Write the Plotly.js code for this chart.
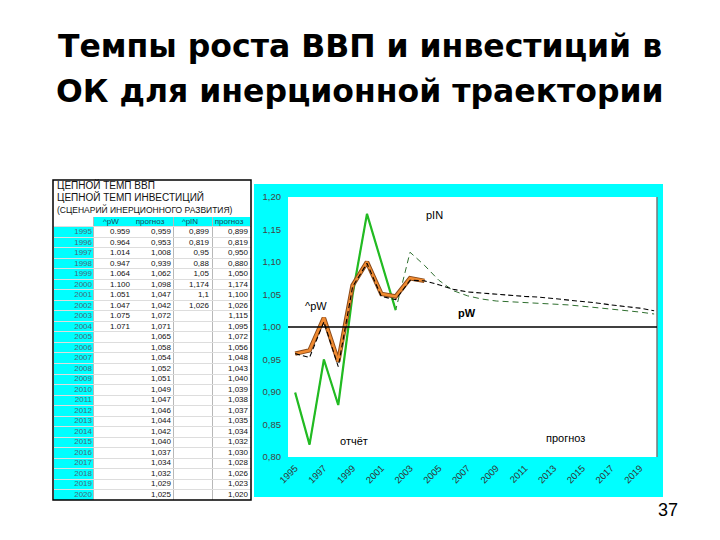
<!DOCTYPE html>
<html>
<head>
<meta charset="utf-8">
<script src="https://cdn.plot.ly/plotly-3.0.1.min.js"></script>
<style>html,body{margin:0;padding:0;background:#fff;}#chart{width:720px;height:540px;}</style>
</head>
<body>
<div id="chart"></div>
<script>
// ---- data ----
var years = [1995,1996,1997,1998,1999,2000,2001,2002,2003,2004,2005,2006,2007,2008,2009,2010,2011,2012,2013,2014,2015,2016,2017,2018,2019,2020];
var yearsActualW = [1995,1996,1997,1998,1999,2000,2001,2002,2003,2004];
var pW_actual = [0.959,0.964,1.014,0.947,1.064,1.100,1.051,1.047,1.075,1.071];
var pW_forecast = [0.959,0.953,1.008,0.939,1.062,1.098,1.047,1.042,1.072,1.071,1.065,1.058,1.054,1.052,1.051,1.049,1.047,1.046,1.044,1.042,1.040,1.037,1.034,1.032,1.029,1.025];
var yearsActualIN = [1995,1996,1997,1998,1999,2000,2001,2002];
var pIN_actual = [0.899,0.819,0.95,0.88,1.05,1.174,1.1,1.026];
var pIN_forecast = [0.899,0.819,0.950,0.880,1.050,1.174,1.100,1.026,1.115,1.095,1.072,1.056,1.048,1.043,1.040,1.039,1.038,1.037,1.035,1.034,1.032,1.030,1.028,1.026,1.023,1.020];
var xTickVals = [1995,1997,1999,2001,2003,2005,2007,2009,2011,2013,2015,2017,2019];
var xTickText = ['1995','1997','1999','2001','2003','2005','2007','2009','2011','2013','2015','2017','2019'];
var yTickVals = [0.80,0.85,0.90,0.95,1.00,1.05,1.10,1.15,1.20];
var yTickText = ['0,80','0,85','0,90','0,95','1,00','1,05','1,10','1,15','1,20'];
var tableHeader = ['^pW', 'прогноз', '^pIN', 'прогноз'];
var titleLines = ['Темпы роста ВВП и инвестиций в', 'ОК для инерционной траектории'];
var tableTitle = ['ЦЕПНОЙ ТЕМП ВВП', 'ЦЕПНОЙ ТЕМП ИНВЕСТИЦИЙ', '(СЦЕНАРИЙ ИНЕРЦИОННОГО РАЗВИТИЯ)'];

// ---- table columns (text) ----
var colYear = years.map(String);
var colW = pW_actual.map(function(v){ return v.toFixed(3); });
var colWf = pW_forecast.map(function(v){ return v.toFixed(3).replace('.', ','); });
var colIN = pIN_actual.map(function(v){ return String(v).replace('.', ','); });
var colINf = pIN_forecast.map(function(v){ return v.toFixed(3).replace('.', ','); });

var FONT = 'Liberation Sans, Arial, sans-serif';
var TFONT = 'DejaVu Sans, Liberation Sans, sans-serif';
var W = 720, H = 540;
function px(x){ return x / W; }
function py(y){ return 1 - y / H; }

// table layout (x2 axis in pixel units of the table area)
var colRight = [92, 130, 171, 209, 248];
var headCenter = [111, 150, 190, 229];
var headerRowYear = 1994; // header row sits one row above the first year
function constArr(n, v){ var a = []; for (var i = 0; i < n; i++) a.push(v); return a; }
function tcol(yrs, txt, xr, color){
  return {type:'scatter', mode:'text', xaxis:'x2', yaxis:'y2', x: constArr(yrs.length, xr), y: yrs,
    text: txt, textposition:'middle left', textfont:{family:FONT, size:8, color: color}, hoverinfo:'skip', cliponaxis:false};
}

var traces = [
  tcol(years, colYear, colRight[0], '#4a6a7a'),
  tcol(yearsActualW, colW, colRight[1], '#111'),
  tcol(years, colWf, colRight[2], '#111'),
  tcol(yearsActualIN, colIN, colRight[3], '#111'),
  tcol(years, colINf, colRight[4], '#111'),
  {type:'scatter', mode:'text', xaxis:'x2', yaxis:'y2', x: headCenter, y: constArr(4, headerRowYear),
   text: tableHeader, textposition:'middle center', textfont:{family:FONT, size:8, color:'#1a4a5a'}, hoverinfo:'skip', cliponaxis:false},

  {type:'scatter', mode:'lines', x: years, y: pIN_forecast, xaxis:'x', yaxis:'y',
   line:{color:'#2f6f2f', width:1, dash:'6px,4px'}, hoverinfo:'skip'},
  {type:'scatter', mode:'lines', x: yearsActualIN, y: pIN_actual,
   line:{color:'#22bb22', width:2.2}, hoverinfo:'skip'},
  {type:'scatter', mode:'lines', x: yearsActualW, y: pW_actual,
   line:{color:'#8a4a1a', width:4.5}, hoverinfo:'skip'},
  {type:'scatter', mode:'lines', x: yearsActualW, y: pW_actual,
   line:{color:'#f08a30', width:2.6}, hoverinfo:'skip'},
  {type:'scatter', mode:'lines', x: years, y: pW_forecast,
   line:{color:'#000000', width:1.1, dash:'5px,3px'}, hoverinfo:'skip'}
];

var ann = [
  {text: titleLines[0], x:0.5, y:py(46), xref:'paper', yref:'paper', showarrow:false,
   font:{family:TFONT, size:31.5, color:'#000', weight:'bold'}, xanchor:'center', yanchor:'middle'},
  {text: titleLines[1], x:0.5, y:py(91), xref:'paper', yref:'paper', showarrow:false,
   font:{family:TFONT, size:31.5, color:'#000', weight:'bold'}, xanchor:'center', yanchor:'middle'},
  {text:'37', x:px(668), y:py(510), xref:'paper', yref:'paper', showarrow:false,
   font:{family:FONT, size:18, color:'#000'}, xanchor:'center', yanchor:'middle'},
  {text:'pIN', x:2004.68, y:1.172, xref:'x', yref:'y', showarrow:false, font:{family:FONT, size:11, color:'#000'}},
  {text:'^pW', x:1996.45, y:1.032, xref:'x', yref:'y', showarrow:false, font:{family:FONT, size:11, color:'#000'}},
  {text:'pW', x:2007.0, y:1.0215, xref:'x', yref:'y', showarrow:false, font:{family:FONT, size:11, color:'#000', weight:'bold'}},
  {text:'отчёт', x:1999.1, y:0.8246, xref:'x', yref:'y', showarrow:false, font:{family:FONT, size:11, color:'#000'}},
  {text:'прогноз', x:2013.8, y:0.829, xref:'x', yref:'y', showarrow:false, font:{family:FONT, size:11, color:'#000'}}
];
var tty = [185, 197, 209];
var tsz = [10, 10, 8.5];
for (var i = 0; i < tableTitle.length; i++) {
  ann.push({text: tableTitle[i], x:px(55), y:py(tty[i]), xref:'paper', yref:'paper', showarrow:false,
    xanchor:'left', yanchor:'middle', font:{family:FONT, size:tsz[i], color:'#111'}});
}

// horizontal row separators for the table
var rowLines = [];
for (var r = 0; r <= years.length; r++) rowLines.push(headerRowYear + 0.5 + r);

var layout = {
  width: W, height: H,
  margin:{l:0, r:0, t:0, b:0},
  paper_bgcolor:'#ffffff', plot_bgcolor:'rgba(0,0,0,0)',
  showlegend:false,
  xaxis:{domain:[px(288), px(657)], range:[1994.5, 2020.2], tickvals: xTickVals, ticktext: xTickText,
    tickangle:-45, showgrid:false, zeroline:false, showline:false, ticks:'', ticklabelstandoff:3,
    tickfont:{family:FONT, size:9.5, color:'#333'}},
  yaxis:{domain:[py(457), py(197)], range:[0.8, 1.2], tickvals: yTickVals, ticktext: yTickText,
    showgrid:false, zeroline:false, showline:false, ticks:'', ticklabelstandoff:6,
    tickfont:{family:FONT, size:9.5, color:'#444'}},
  xaxis2:{domain:[px(53), px(251)], range:[53, 251], anchor:'y2', showticklabels:false, ticks:'',
    zeroline:false, showline:false, showgrid:true, tickvals:[93, 173, 212], gridcolor:'#b8b8b8', gridwidth:1},
  yaxis2:{domain:[py(500), py(217)], range:[2020.48, 1993.57], anchor:'x2', showticklabels:false, ticks:'',
    zeroline:false, showline:false, showgrid:true, tickvals: rowLines, gridcolor:'#dddddd', gridwidth:1},
  annotations: ann,
  shapes:[
    // table cyan fills
    {type:'rect', xref:'paper', yref:'paper', x0:px(54), x1:px(93), y0:py(500), y1:py(227),
     fillcolor:'#00ffff', line:{width:0}, layer:'below'},
    {type:'rect', xref:'paper', yref:'paper', x0:px(93), x1:px(250), y0:py(227), y1:py(217),
     fillcolor:'#00ffff', line:{width:0}, layer:'below'},
    // chart frame
    {type:'rect', xref:'paper', yref:'paper', x0:px(254), x1:px(663), y0:py(497), y1:py(184),
     fillcolor:'#00ffff', line:{width:0}, layer:'below'},
    {type:'rect', xref:'paper', yref:'paper', x0:px(288), x1:px(657), y0:py(457), y1:py(197),
     fillcolor:'#ffffff', line:{width:0}, layer:'below'},
    {type:'line', xref:'paper', yref:'paper', x0:px(657), x1:px(657), y0:py(457), y1:py(197),
     line:{color:'#777', width:1.5}},
    {type:'line', xref:'x domain', yref:'y', x0:0, x1:1, y0:1, y1:1, line:{color:'#000', width:1.3}},
    {type:'rect', xref:'paper', yref:'paper', x0:px(53), x1:px(251), y0:py(500), y1:py(180),
     line:{color:'#000', width:1.5}, fillcolor:'rgba(0,0,0,0)'}
  ]
};

Plotly.newPlot('chart', traces, layout, {staticPlot:true, displayModeBar:false});
</script>
</body>
</html>
